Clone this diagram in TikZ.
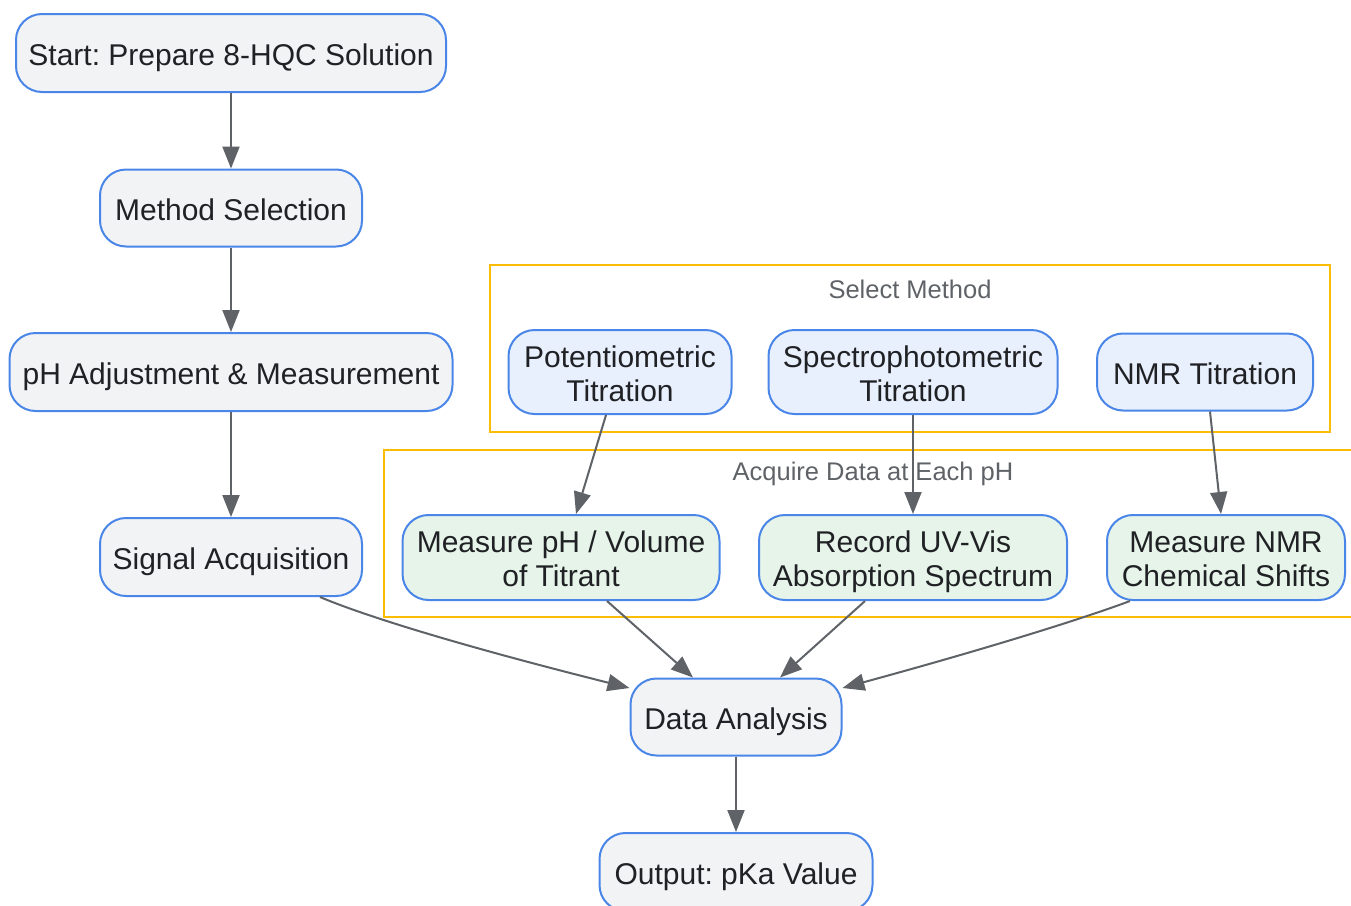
\documentclass[tikz,border=0pt]{standalone}
\usepackage{fontspec}
\setmainfont{Liberation Sans}
\usetikzlibrary{arrows.meta,calc}
\frenchspacing
\newcommand{\twolines}[2]{\rule{0pt}{31pt}#1\\#2\rule[-7pt]{0pt}{7pt}}
\definecolor{nodefill}{HTML}{F1F3F5}
\definecolor{nodeborder}{HTML}{4A86E8}
\definecolor{bluefill}{HTML}{E8F0FE}
\definecolor{greenfill}{HTML}{E6F4EA}
\definecolor{clusterline}{HTML}{FBBC04}
\definecolor{edgecol}{HTML}{5F6368}
\definecolor{textcol}{HTML}{202124}
\begin{document}
\begin{tikzpicture}[x=1pt,y=-1pt,
  box/.style={draw=nodeborder, line width=2pt, fill=nodefill, rounded corners=26pt,
    text=textcol, font=\fontsize{30}{34}\selectfont, align=center, inner sep=0pt},
  oneline/.style={text height=25pt, text depth=0pt},
  bluebox/.style={box, fill=bluefill},
  greenbox/.style={box, fill=greenfill},
  cluster/.style={draw=clusterline, line width=2pt},
  clabel/.style={text=edgecol, font=\fontsize{25.5}{28}\selectfont, inner sep=0pt},
  conn/.style={draw=edgecol, line width=2pt, -{Triangle[length=22pt,width=17pt]}}]
\useasboundingbox (0,0) rectangle (1351,905);
\fill[white] (0,0) rectangle (1351,905);
% clusters
\draw[cluster] (490,265) rectangle (1330,432);
\node[clabel] (selLabel) at (910,289) {Select Method};
\draw[cluster] (384,450) rectangle (1370,617);
\node[clabel] (acqLabel) at (873,474) {Acquire Data at Each pH};
% nodes
\node[box, oneline, minimum width=430pt, minimum height=78pt] (start) at (231,53) {Start: Prepare 8-HQC Solution};
\node[box, oneline, minimum width=262pt, minimum height=77pt] (method) at (231,208) {Method Selection};
\node[box, oneline, minimum width=443pt, minimum height=78pt] (ph) at (231,372) {pH Adjustment \& Measurement};
\node[box, oneline, minimum width=262pt, minimum height=78pt] (sig) at (231,557) {Signal Acquisition};
\node[bluebox, minimum width=223pt, minimum height=84pt] (pot) at (620,372) {\twolines{Potentiometric}{Titration}};
\node[bluebox, minimum width=289pt, minimum height=84pt] (spec) at (913,372) {\twolines{Spectrophotometric}{Titration}};
\node[bluebox, oneline, minimum width=216pt, minimum height=77pt] (nmrt) at (1205,372) {NMR Titration};
\node[greenbox, minimum width=317pt, minimum height=85pt] (mph) at (561,557.5) {\twolines{Measure pH / Volume}{of Titrant}};
\node[greenbox, minimum width=308pt, minimum height=85pt] (rec) at (913,557.5) {\twolines{Record UV-Vis}{Absorption Spectrum}};
\node[greenbox, minimum width=238pt, minimum height=85pt] (mnmr) at (1226,557.5) {\twolines{Measure NMR}{Chemical Shifts}};
\node[box, oneline, minimum width=211pt, minimum height=77pt] (da) at (736,717) {Data Analysis};
\node[box, oneline, minimum width=273pt, minimum height=78pt] (out) at (736,872) {Output: pKa Value};
% connectors
\draw[conn] (start) -- (method);
\draw[conn] (method) -- (ph);
\draw[conn] (ph) -- (sig);
\draw[conn] ($(pot.south)+(-14,0)$) -- ($(mph.north)+(15,0)$);
\draw[conn] (spec) -- (rec);
\draw[conn] ($(nmrt.south)+(5,0)$) -- ($(mnmr.north)+(-5,0)$);
\draw[conn] ($(sig.south)+(89,0)$) .. controls (360,614) and (450,643) .. ($(da.west)+(0,-29)$);
\draw[conn] ($(mph.south)+(46,0)$) -- ($(da.north)+(-43,0)$);
\draw[conn] ($(rec.south)+(-48,0)$) -- ($(da.north)+(44,0)$);
\draw[conn] ($(mnmr.south)+(-96,0)$) .. controls (1090,616) and (1000,645) .. ($(da.east)+(0,-29)$);
\draw[conn] (da) -- (out);
\end{tikzpicture}
\end{document}
